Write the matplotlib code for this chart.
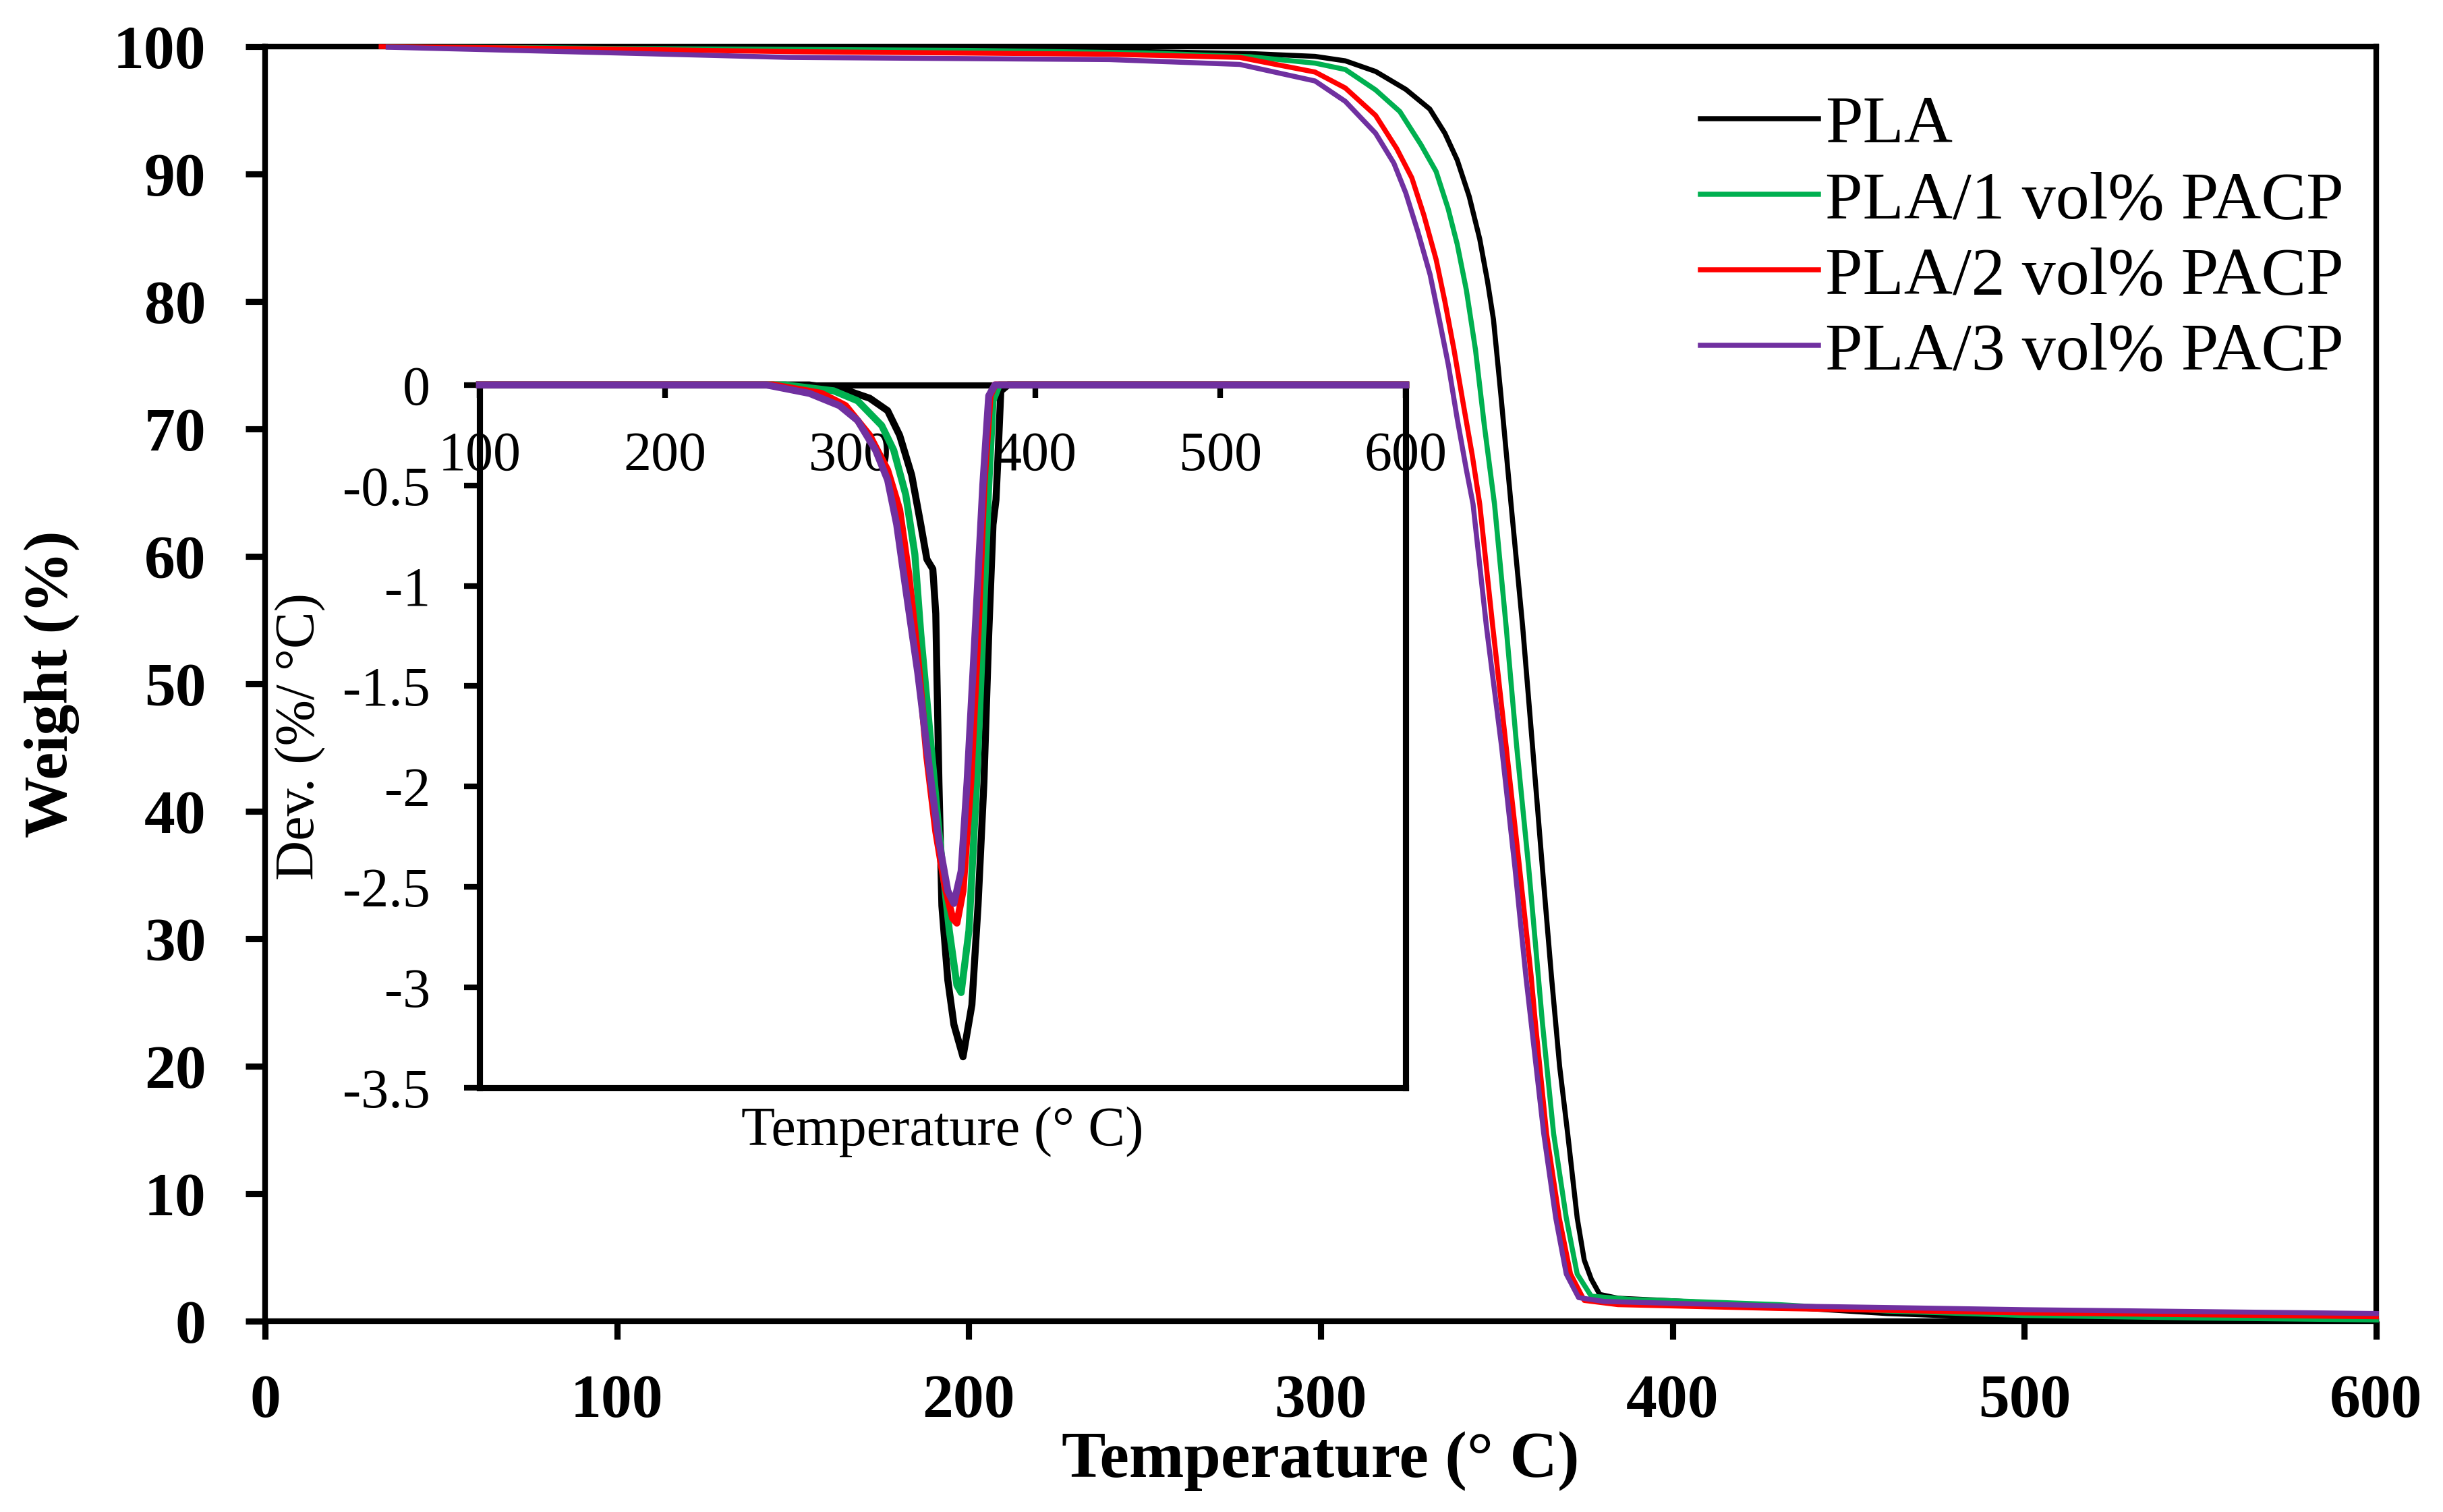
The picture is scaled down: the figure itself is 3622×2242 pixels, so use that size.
import matplotlib
matplotlib.use('Agg')
import matplotlib.pyplot as plt
from matplotlib.ticker import MultipleLocator, FuncFormatter

plt.rcParams['font.family'] = ['Liberation Serif', 'DejaVu Serif']
plt.rcParams['axes.unicode_minus'] = False

# ---- TGA curves (weight % vs temperature) ----
t_pla = [35, 100, 200, 250, 280, 298.4, 307.0, 315.6, 324.2, 331.0, 335.3, 338.8, 342.2, 345.2,
         347.4, 349.1, 351.2, 354.1, 357.4, 360.2, 363.0, 365.6, 367.9, 370.2, 372.9, 374.9,
         376.9, 379.3, 384.5, 400, 432, 461, 500, 550, 600]
w_pla = [100, 99.9, 99.7, 99.6, 99.45, 99.23, 98.88, 98.05, 96.64, 95.1, 93.2, 91.1, 88.25, 84.9,
         81.6, 78.6, 72.7, 64.1, 54.5, 45.1, 35.6, 27.0, 20.0, 14.7, 8.1, 4.8,
         3.3, 2.1, 1.8, 1.6, 1.1, 0.6, 0.2, 0.1, 0.05]

t_p1 = [35, 100, 200, 250, 280, 298.4, 307.0, 315.6, 322.5, 328.5, 332.8, 336.2, 338.8, 341.4,
        344.0, 346.5, 349.4, 352.7, 355.7, 359.1, 360.2, 363.0, 366.2, 369.8, 372.9, 376.9,
        388.4, 400, 430, 461, 500, 550, 600]
w_p1 = [100, 99.85, 99.7, 99.5, 99.2, 98.7, 98.2, 96.6, 94.9, 92.3, 90.2, 87.3, 84.5, 80.9,
        76.2, 70.3, 64.1, 54.5, 45.1, 35.6, 32.2, 23.45, 14.7, 8.1, 3.7, 1.96,
        1.7, 1.6, 1.3, 0.8, 0.45, 0.25, 0.1]

t_p2 = [33, 100, 150, 240, 277, 298.4, 307.0, 315.6, 321.6, 325.9, 329.3, 332.8, 335.3, 337.9,
        340.5, 343.1, 345.2, 348.9, 352.7, 356.5, 359.8, 361.0, 364.2, 367.8, 371.0, 374.9,
        384.5, 400, 430, 461, 500, 550, 600]
w_p2 = [100, 99.8, 99.6, 99.4, 99.15, 98.0, 96.75, 94.6, 92.0, 89.7, 86.8, 83.3, 80.0, 76.2,
        72.0, 67.9, 64.1, 54.5, 45.1, 35.6, 27.1, 23.45, 14.7, 8.1, 3.7, 1.63,
        1.3, 1.2, 1.0, 0.85, 0.65, 0.5, 0.35]

t_p3 = [35, 100, 149, 240, 277, 298.4, 307.0, 315.6, 320.8, 324.2, 327.7, 331.1, 333.7, 336.3,
        338.8, 341.4, 343.3, 347.1, 351.4, 355.2, 358.3, 359.8, 363.4, 366.8, 369.8, 373.3,
        380.5, 400, 430, 461, 500, 550, 600]
w_p3 = [99.95, 99.5, 99.15, 98.98, 98.6, 97.3, 95.7, 93.2, 90.85, 88.5, 85.4, 82.1, 78.6, 75.0,
        70.8, 66.8, 64.1, 54.5, 45.1, 35.6, 27.1, 23.45, 14.7, 8.1, 3.7, 1.85,
        1.55, 1.4, 1.2, 1.07, 0.9, 0.75, 0.6]

# ---- DTG curves for the inset (%/°C) ----
dt_pla = [100, 200, 278, 297.6, 310.6, 320.3, 326.8, 333.3, 338.2, 341.5, 344.7, 346.3, 347.0,
          348.0, 349.6, 352.8, 356.1, 361.0, 365.8, 369.1, 372.3, 374.9, 377.2, 378.8, 379.8,
          381.4, 385.3, 450, 500, 600]
dv_pla = [0, 0, 0, -0.025, -0.066, -0.128, -0.251, -0.449, -0.695, -0.868, -0.917, -1.139, -1.484,
          -1.978, -2.594, -2.964, -3.186, -3.346, -3.087, -2.594, -1.978, -1.238, -0.695, -0.572, -0.375,
          -0.03, 0, 0, 0, 0]

dt_p1 = [100, 200, 265, 291.1, 304.1, 317.1, 323.6, 330.1, 335.0, 338.2, 343.1, 348.0, 353.6,
         357.7, 360.0, 364.2, 368.4, 371.7, 374.9, 377.2, 380.5, 450, 500, 600]
dv_p1 = [0, 0, 0, -0.029, -0.079, -0.202, -0.325, -0.547, -0.843, -1.238, -1.731, -2.224, -2.717,
         -2.989, -3.026, -2.717, -1.978, -1.238, -0.498, -0.079, 0, 0, 0, 0]

dt_p2 = [100, 200, 258.5, 284.6, 297.6, 310.6, 320.3, 326.8, 331.7, 336.6, 341.5, 346.3, 351.2,
         355.4, 357.7, 361.0, 365.2, 369.1, 372.3, 375.6, 378.2, 450, 500, 600]
dv_p2 = [0, 0, 0, -0.042, -0.103, -0.251, -0.424, -0.621, -0.942, -1.361, -1.854, -2.224, -2.495,
         -2.656, -2.680, -2.520, -1.978, -1.238, -0.498, -0.054, 0, 0, 0, 0]

dt_p3 = [100, 200, 255, 278.1, 294.3, 304.1, 313.8, 320.3, 325.2, 330.1, 336.6, 343.1, 348.0,
         352.8, 356.1, 360.0, 363.2, 367.5, 371.7, 374.9, 378.2, 450, 500, 600]
dv_p3 = [0, 0, 0, -0.042, -0.103, -0.177, -0.325, -0.473, -0.695, -1.016, -1.435, -1.928, -2.273,
         -2.520, -2.582, -2.421, -1.978, -1.238, -0.498, -0.054, 0, 0, 0, 0]

labels = ['PLA', 'PLA/1 vol% PACP', 'PLA/2 vol% PACP', 'PLA/3 vol% PACP']
colors = ['#000000', '#00B050', '#FF0000', '#7030A0']

fig = plt.figure(figsize=(3622 / 300, 2242 / 300), dpi=300)
ax = fig.add_axes([0.1085, 0.1262, 0.8642, 0.843])

for (t, w), lab, c in zip([(t_pla, w_pla), (t_p1, w_p1), (t_p2, w_p2), (t_p3, w_p3)], labels, colors):
    ax.plot(t, w, color=c, lw=1.8, label=lab, zorder=3, clip_on=False)

ax.set_xlim(0, 600)
ax.set_ylim(0, 100)
ax.xaxis.set_major_locator(MultipleLocator(100))
ax.yaxis.set_major_locator(MultipleLocator(10))
for s in ax.spines.values():
    s.set_linewidth(2)
ax.tick_params(axis='x', direction='out', length=6.5, width=2.2, pad=12.5, labelsize=22)
ax.tick_params(axis='y', direction='out', length=7, width=2.2, pad=14, labelsize=22)
for lbl in ax.get_xticklabels() + ax.get_yticklabels():
    lbl.set_fontweight('bold')

ax.set_xlabel('Temperature (° C)', fontsize=23.5, fontweight='bold', va='center')
ax.xaxis.set_label_coords(0.5, -0.110)
ax.set_ylabel('Weight (%)', fontsize=22, fontweight='bold', va='center')
ax.yaxis.set_label_coords(-0.101, 0.5)

ax.legend(loc='upper left', bbox_to_anchor=(0.680, 0.962), frameon=False, fontsize=24,
          handlelength=1.75, handletextpad=0.1, labelspacing=0.21, borderpad=0, borderaxespad=0)

# ---- inset: derivative curves ----
ins = fig.add_axes([0.1963, 0.2806, 0.3791, 0.4648])
for (t, d), c in zip([(dt_pla, dv_pla), (dt_p1, dv_p1), (dt_p2, dv_p2), (dt_p3, dv_p3)], colors):
    ins.plot(t, d, color=c, lw=2.5, zorder=3, clip_on=False)

ins.set_xlim(100, 600)
ins.set_ylim(-3.5, 0)
ins.xaxis.set_major_locator(MultipleLocator(100))
ins.yaxis.set_major_locator(MultipleLocator(0.5))
ins.yaxis.set_major_formatter(FuncFormatter(lambda v, p: ('%g' % v).replace('−', '-')))
ins.spines['bottom'].set_position(('data', 0))
ins.spines['top'].set_position(('data', -3.5))
for s in ins.spines.values():
    s.set_linewidth(2.2)
ins.tick_params(axis='x', direction='out', length=4.5, width=2, pad=12, labelsize=19.7)
ins.tick_params(axis='y', direction='out', length=5.5, width=2, pad=12, labelsize=19.7)

ins.set_xlabel('Temperature (° C)', fontsize=19.7, va='center')
ins.xaxis.set_label_coords(0.5, -0.063)
ins.set_ylabel('Dev. (%/ °C)', fontsize=19.7, va='center')
ins.yaxis.set_label_coords(-0.193, 0.5)

fig.savefig('out.png', dpi=300, facecolor='white')
